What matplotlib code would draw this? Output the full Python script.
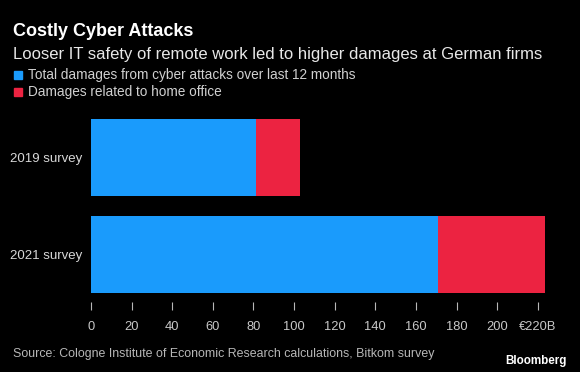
import matplotlib.pyplot as plt

# data (EUR billion)
surveys = ['2019 survey', '2021 survey']
total_other = [81.1, 170.8]
home_office = [21.6, 52.5]
xticks = [0, 20, 40, 60, 80, 100, 120, 140, 160, 180, 200, 220]
xtick_labels = ['0', '20', '40', '60', '80', '100', '120', '140', '160', '180', '200', '€220B']

blue = '#1a9bfc'
red = '#ec2341'
plt.rcParams['font.family'] = ['Liberation Sans', 'DejaVu Sans']

W, H = 580, 372
fig = plt.figure(figsize=(W / 100, H / 100), dpi=100, facecolor='black')
ax = fig.add_axes([91 / W, 1 - 302 / H, 459 / W, 192 / H], facecolor='black')

y = list(range(len(surveys)))
ax.barh(y, total_other, height=0.79, color=blue)
ax.barh(y, home_office, left=total_other, height=0.79, color=red)

ax.set_xlim(0, 226)
ax.set_ylim(1.49, -0.49)
ax.set_yticks(y)
ax.set_yticklabels(surveys)
ax.set_xticks(xticks)
ax.set_xticklabels(xtick_labels)
ax.tick_params(axis='x', colors='#b8b8b8', labelcolor='#c8c8c8', length=6, width=0.8,
               pad=8, labelsize=9.3)
ax.tick_params(axis='y', length=0, pad=6, labelsize=9.5, labelcolor='#d8d8d8')
for s in ax.spines.values():
    s.set_visible(False)

fig.text(13 / W, 1 - 31 / H, 'Costly Cyber Attacks', color='white', fontsize=13,
         fontweight='bold', va='center')
fig.text(13 / W, 1 - 54 / H, 'Looser IT safety of remote work led to higher damages at German firms',
         color='#e8e8e8', fontsize=12, va='center')

legend = [('Total damages from cyber attacks over last 12 months', blue),
          ('Damages related to home office', red)]
for i, (lab, c) in enumerate(legend):
    yy = 1 - (75 + i * 17) / H
    fig.patches.append(plt.Rectangle((14 / W, yy - 4 / H), 8 / W, 8 / H, color=c,
                                     transform=fig.transFigure))
    fig.text(28 / W, yy, lab, color='#d0d0d0', fontsize=9.8, va='center')

fig.text(13 / W, 1 - 354 / H,
         'Source: Cologne Institute of Economic Research calculations, Bitkom survey',
         color='#b8b8b8', fontsize=8.9, va='center')
fig.text(567 / W, 1 - 361 / H, 'Bloomberg', color='white', fontsize=8.4,
         fontweight='bold', ha='right', va='center')

fig.savefig('out.png', dpi=100, facecolor='black')
